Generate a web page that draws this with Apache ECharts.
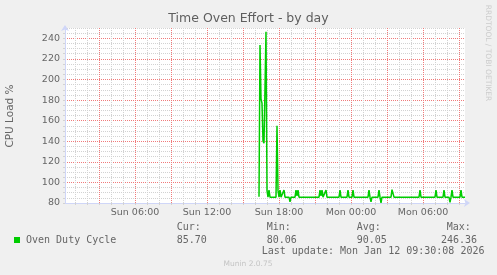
<!DOCTYPE html>
<html><head><meta charset="utf-8">
<script src="https://cdn.jsdelivr.net/npm/echarts@6/dist/echarts.min.js"></script>
<style>html,body{margin:0;padding:0;background:#f0f0f0;}#c{width:497px;height:275px;}</style>
</head><body><div id="c"></div>
<script>
const titleText = 'Time Oven Effort - by day';
const yAxisName = 'CPU Load %';
const seriesName = 'Oven Duty Cycle';
const watermark = 'RRDTOOL / TOBI OETIKER';
const footerText = 'Munin 2.0.75';
const lastUpdate = 'Last update: Mon Jan 12 09:30:08 2026';
const statLabels = ['Cur:', 'Min:', 'Avg:', 'Max:'];
const statValues = ['85.70', '80.06', '90.05', '246.36'];

const sampleTimes = [
  'Sun 16:20','Sun 16:25','Sun 16:30','Sun 16:35','Sun 16:40','Sun 16:45','Sun 16:50','Sun 16:55',
  'Sun 17:00','Sun 17:05','Sun 17:10','Sun 17:15','Sun 17:45','Sun 17:50','Sun 17:55','Sun 18:00',
  'Sun 18:05','Sun 18:10','Sun 18:20','Sun 18:25','Sun 18:30','Sun 18:50','Sun 18:55','Sun 19:00',
  'Sun 19:20','Sun 19:25','Sun 19:30','Sun 19:35','Sun 19:40','Sun 21:20','Sun 21:25','Sun 21:30',
  'Sun 21:35','Sun 21:40','Sun 21:50','Sun 21:55','Sun 22:00','Sun 23:00','Sun 23:05','Sun 23:10',
  'Sun 23:40','Sun 23:45','Sun 23:50','Mon 00:05','Mon 00:10','Mon 00:15','Mon 01:25','Mon 01:30',
  'Mon 01:35','Mon 01:40','Mon 01:45','Mon 02:15','Mon 02:20','Mon 02:25','Mon 02:30','Mon 02:35',
  'Mon 03:20','Mon 03:25','Mon 03:30','Mon 03:35','Mon 04:15','Mon 04:20','Mon 04:25','Mon 05:40',
  'Mon 05:45','Mon 05:50','Mon 07:00','Mon 07:05','Mon 07:10','Mon 07:40','Mon 07:45','Mon 07:50',
  'Mon 08:10','Mon 08:15','Mon 08:20','Mon 08:25','Mon 08:30','Mon 09:05','Mon 09:10','Mon 09:15',
  'Mon 09:30'
];
const sampleValues = [
  86.0, 233.5, 181.0, 177.0, 140.0, 138.0, 139.0, 246.36,
  92.0, 85.7, 92.5, 85.7, 85.7, 155.0, 92.5, 85.7,
  92.5, 85.7, 85.7, 92.5, 85.7, 85.7, 81.0, 85.7,
  85.7, 92.5, 87.0, 92.5, 85.7, 85.7, 92.5, 87.0,
  92.5, 85.7, 85.7, 92.5, 85.7, 85.7, 92.5, 85.7,
  85.7, 92.5, 85.7, 85.7, 92.5, 85.7, 85.7, 92.5,
  85.7, 81.0, 85.7, 85.7, 92.5, 85.7, 80.06, 85.7,
  85.7, 93.0, 92.5, 85.7, 85.7, 87.5, 85.7, 85.7,
  92.5, 85.7, 85.7, 92.5, 85.7, 85.7, 92.5, 85.7,
  85.7, 80.5, 85.7, 92.5, 85.7, 85.7, 92.5, 85.7,
  85.70
];
const yMin = 80, yMax = 250;
const yMinorStep = 5, yLabelStep = 20;

// 5-minute category steps from Sun 00:10 to Mon 09:30
const startMinute = 10, endMinute = 2010, stepMinutes = 5;
function fmt(m) {
  const day = m < 1440 ? 'Sun' : 'Mon';
  const mm = m % 1440;
  const h = Math.floor(mm / 60), mi = mm % 60;
  return day + ' ' + String(h).padStart(2, '0') + ':' + String(mi).padStart(2, '0');
}
const categories = [];
for (let m = startMinute; m <= endMinute; m += stepMinutes) categories.push(fmt(m));
const minuteOf = i => startMinute + i * stepMinutes;
const isHour = i => minuteOf(i) % 60 === 0;
const isLabelHour = i => minuteOf(i) % 360 === 0;

const lineData = sampleTimes.map((t, k) => [categories.indexOf(t), sampleValues[k]]);

const GRAY = '#d2d2d2';
const RED = '#f07a7a';
const AXIS = '#CFD6F8';
const FONT = '#666666';

// first hourly line is 01:00, so every third line (03:00, 06:00, ...) is a major (red) one
const xLineColors = [GRAY, GRAY, RED];
// horizontal lines every 5 starting at 80: every fourth (multiples of 20) is major
const yLineColors = [RED, GRAY, GRAY, GRAY];

const chart = echarts.init(document.getElementById('c'), null, {renderer: 'canvas'});
const mono = '"DejaVu Sans Mono", monospace';
const sans = '"DejaVu Sans", sans-serif';
const txt = (x, y, text, opts) => Object.assign({
  type: 'text', x: x, y: y, silent: true,
  style: Object.assign({text: text, fill: FONT, font: '10px ' + mono, textVerticalAlign: 'middle'}, opts || {})
});

chart.setOption({
  animation: false,
  backgroundColor: '#f0f0f0',
  grid: {left: 65, top: 28, width: 400, height: 175, show: true, backgroundColor: '#ffffff', borderWidth: 0},
  xAxis: {
    type: 'category', data: categories, boundaryGap: false, position: 'bottom',
    axisLine: {show: true, onZero: false, symbol: ['none', 'arrow'], symbolSize: [6, 6], symbolOffset: [0, 5],
               lineStyle: {color: AXIS, width: 1}},
    axisTick: {show: true, interval: isHour, length: 2, lineStyle: {color: GRAY}},
    axisLabel: {show: true, interval: isLabelHour, color: FONT, fontFamily: sans, fontSize: 9.5, margin: 5},
    splitLine: {show: true, interval: isHour, lineStyle: {color: xLineColors, type: [1, 1], width: 1}}
  },
  yAxis: {
    type: 'value', min: yMin, max: yMax, interval: yMinorStep, position: 'left',
    axisLine: {show: true, onZero: false, symbol: ['none', 'arrow'], symbolSize: [6, 6], symbolOffset: [0, 3],
               lineStyle: {color: AXIS, width: 1}},
    axisTick: {show: true, length: 2, lineStyle: {color: GRAY}},
    axisLabel: {show: true, color: FONT, fontFamily: sans, fontSize: 9.5, margin: 5,
                formatter: v => (v % yLabelStep === 0 ? String(v) : '')},
    splitLine: {show: true, lineStyle: {color: yLineColors, type: [1, 1], width: 1}}
  },
  series: [{
    name: seriesName, type: 'line',
    data: lineData, showSymbol: false, symbol: 'none',
    lineStyle: {color: '#00cc00', width: 1.5}, itemStyle: {color: '#00cc00'}
  }],
  graphic: [
    txt(248.5, 18.5, titleText, {font: '12.5px ' + sans, textAlign: 'center', fill: '#5e5e5e'}),
    {type: 'text', x: 10.5, y: 116, rotation: Math.PI / 2, silent: true,
     style: {text: yAxisName, fill: FONT, font: '10.5px ' + sans, textAlign: 'center', textVerticalAlign: 'middle'}},
    {type: 'text', x: 488, y: 53, rotation: -Math.PI / 2, silent: true,
     style: {text: watermark, fill: '#cccccc', font: '7.5px ' + sans, textAlign: 'center', textVerticalAlign: 'middle'}},
    {type: 'rect', shape: {x: 14, y: 237, width: 6, height: 6}, style: {fill: '#00cc00'}, silent: true},
    txt(26, 240, seriesName),
    txt(176.7, 227.7, statLabels[0]), txt(176.7, 240, statValues[0]),
    txt(266.7, 227.7, statLabels[1]), txt(266.7, 240, statValues[1]),
    txt(356.7, 227.7, statLabels[2]), txt(356.7, 240, statValues[2]),
    txt(446.7, 227.7, statLabels[3]), txt(477, 240, statValues[3], {textAlign: 'right'}),
    txt(261.7, 251.5, lastUpdate),
    txt(248, 264, footerText, {font: '7.5px ' + sans, fill: '#c4c4c4', textAlign: 'center'})
  ]
});
</script></body></html>
